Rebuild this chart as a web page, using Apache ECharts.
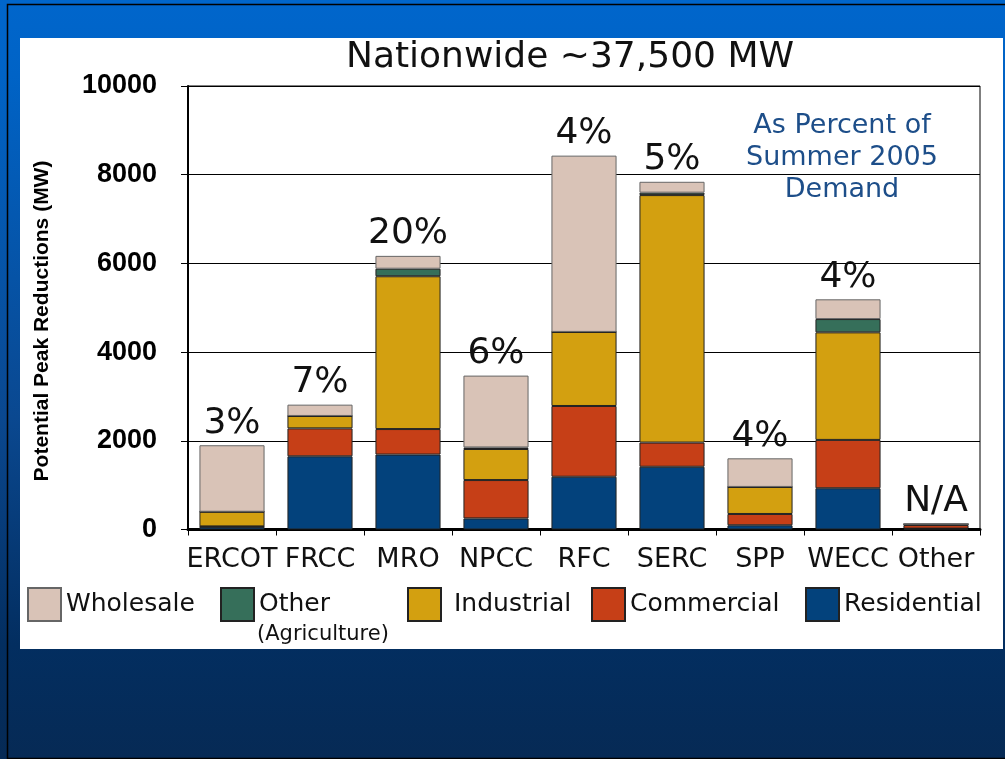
<!DOCTYPE html>
<html>
<head>
<meta charset="utf-8">
<script src="https://cdn.jsdelivr.net/npm/echarts@6/dist/echarts.min.js"></script>
<style>
  html, body { margin: 0; padding: 0; }
  #main { width: 1005px; height: 759px; }
</style>
</head>
<body>
<div id="main"></div>
<script>
var categories = ['ERCOT', 'FRCC', 'MRO', 'NPCC', 'RFC', 'SERC', 'SPP', 'WECC', 'Other'];
var residential = [60, 1650, 1690, 250, 1190, 1415, 95, 930, 20];
var commercial = [10, 630, 575, 865, 1595, 545, 255, 1090, 80];
var industrial = [330, 280, 3445, 700, 1670, 5580, 610, 2425, 20];
var otherAg = [0, 0, 170, 35, 0, 55, 0, 300, 0];
var wholesale = [1500, 255, 290, 1620, 3975, 245, 645, 445, 5];
var percentLabels = ['3%', '7%', '20%', '6%', '4%', '5%', '4%', '4%', 'N/A'];

var totals = categories.map(function (c, i) {
    return residential[i] + commercial[i] + industrial[i] + otherAg[i] + wholesale[i];
});

var myChart = echarts.init(document.getElementById('main'));

var font = 'DejaVu Sans';
var legendText = { fontFamily: font, fontSize: 25, color: '#111' };

function legendAt(name, left, fmt) {
    return {
        data: [name],
        left: left,
        top: 587,
        padding: 0,
        icon: 'rect',
        itemWidth: 33,
        itemHeight: 33,
        selectedMode: false,
        textStyle: legendText,
        formatter: fmt || '{name}'
    };
}

function stackBar(name, data, color, border) {
    return {
        name: name,
        type: 'bar',
        stack: 'total',
        data: data,
        barCategoryGap: '26%',
        itemStyle: { color: color, borderColor: border || '#222', borderWidth: 1 }
    };
}

var option = {
    backgroundColor: {
        type: 'linear', x: 0, y: 0, x2: 0, y2: 1,
        colorStops: [
            { offset: 0, color: '#0066cc' },
            { offset: 0.1, color: '#0063c6' },
            { offset: 0.55, color: '#0a4890' },
            { offset: 0.85, color: '#032e60' },
            { offset: 1, color: '#062a55' }
        ]
    },
    animation: false,
    graphic: [
        { type: 'rect', z: -10, shape: { x: 7.5, y: 4.5, width: 1010, height: 754 },
          style: { fill: 'transparent', stroke: '#000', lineWidth: 1.5 } },
        { type: 'rect', z: -10, shape: { x: 20, y: 38, width: 983, height: 611 },
          style: { fill: '#ffffff' } },
        { type: 'text', x: 570, y: 58,
          style: { text: 'Nationwide ~37,500 MW', font: '36px "DejaVu Sans"', fill: '#111',
                   textAlign: 'center', textVerticalAlign: 'middle' } },
        { type: 'text', x: 842, y: 158,
          style: { text: 'As Percent of\nSummer 2005\nDemand', font: '27px "DejaVu Sans"', fill: '#1d4e89',
                   textAlign: 'center', textVerticalAlign: 'middle', lineHeight: 32 } },
        { type: 'text', x: 42, y: 321, rotation: Math.PI / 2,
          style: { text: 'Potential Peak Reductions (MW)', font: 'bold 21px "Liberation Sans"', fill: '#000',
                   textAlign: 'center', textVerticalAlign: 'middle' } },
        { type: 'text', x: 257, y: 635,
          style: { text: '(Agriculture)', font: '21px "DejaVu Sans"', fill: '#111',
                   textAlign: 'left', textVerticalAlign: 'middle' } }
    ],
    legend: [
        legendAt('Wholesale', 27),
        legendAt('Other (Agriculture)', 220, 'Other'),
        legendAt('Industrial', 407, ' Industrial'),
        legendAt('Commercial', 591),
        legendAt('Residential', 805)
    ],
    grid: {
        left: 188, right: 25, top: 86, bottom: 229.5,
        show: true, borderColor: '#000', borderWidth: 1
    },
    xAxis: {
        type: 'category',
        data: categories,
        axisLine: { lineStyle: { color: '#000', width: 3 } },
        axisTick: { show: true, length: 6, lineStyle: { color: '#000' } },
        axisLabel: { interval: 0, margin: 17, fontFamily: font, fontSize: 27, color: '#111' }
    },
    yAxis: {
        type: 'value',
        min: 0,
        max: 10000,
        interval: 2000,
        axisLine: { show: true, lineStyle: { color: '#000', width: 2 } },
        axisTick: { show: true, length: 7, lineStyle: { color: '#000' } },
        splitLine: { lineStyle: { color: '#000', width: 1 } },
        axisLabel: {
            margin: 31,
            fontFamily: 'Liberation Sans',
            fontWeight: 'bold',
            fontSize: 27,
            color: '#000',
            formatter: function (v) { return String(v); }
        }
    },
    series: [
        stackBar('Residential', residential, '#03427c'),
        stackBar('Commercial', commercial, '#c63f17'),
        stackBar('Industrial', industrial, '#d3a010'),
        stackBar('Other (Agriculture)', otherAg, '#366f5a'),
        stackBar('Wholesale', wholesale, '#d9c3b7', '#666'),
        {
            name: 'percent',
            type: 'scatter',
            symbolSize: 0,
            data: totals,
            silent: true,
            itemStyle: { opacity: 1 },
            label: {
                show: true,
                position: 'top',
                distance: 4,
                fontFamily: font,
                fontSize: 36,
                color: '#111',
                formatter: function (p) { return percentLabels[p.dataIndex]; }
            }
        }
    ]
};

myChart.setOption(option);
window.addEventListener('resize', myChart.resize);
</script>
</body>
</html>
